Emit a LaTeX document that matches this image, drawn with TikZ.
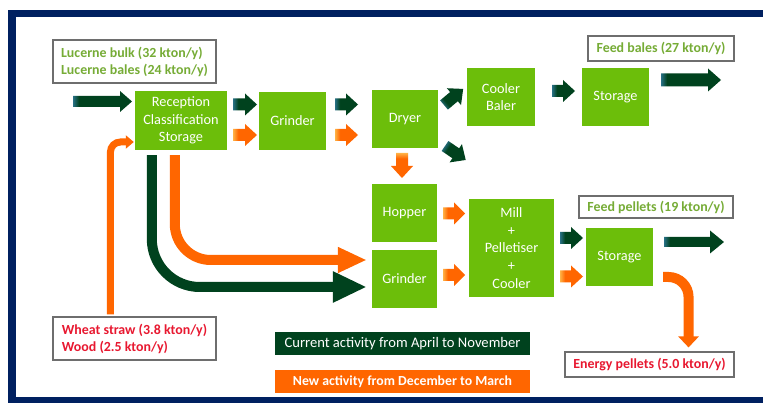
\documentclass[tikz,border=0pt]{standalone}
\usepackage{fontspec}
\setmainfont{Carlito}
\usetikzlibrary{arrows.meta,calc}

\definecolor{framenavy}{HTML}{002060}
\definecolor{boxgreen}{RGB}{108,190,10}
\definecolor{dkgreen}{RGB}{0,66,30}
\definecolor{arrteal}{RGB}{40,112,132}
\definecolor{orng}{RGB}{255,102,0}
\definecolor{orlight}{RGB}{255,178,70}
\definecolor{lblgreen}{RGB}{118,172,54}
\definecolor{lblred}{RGB}{232,24,48}
\definecolor{lblborder}{RGB}{110,110,110}

% gradients for the block arrows: a lighter tail blending into the body colour
\pgfdeclarehorizontalshading{darkblk}{100bp}{color(0bp)=(arrteal); color(25bp)=(arrteal); color(36bp)=(dkgreen); color(100bp)=(dkgreen)}
\pgfdeclarehorizontalshading{darklong}{100bp}{color(0bp)=(arrteal); color(25bp)=(arrteal); color(30bp)=(dkgreen); color(100bp)=(dkgreen)}
\pgfdeclarehorizontalshading{orangeblk}{100bp}{color(0bp)=(orlight); color(25bp)=(orlight); color(36bp)=(orng); color(100bp)=(orng)}

% #1 shading, #2 tail centre, #3 angle, #4 length, #5 head length, #6 shaft half width, #7 head half width
\newcommand{\blockarrow}[7]{%
  \path[shade, shading=#1, shading angle=#3, shift={(#2)}, rotate=#3]
    (0,-#6) -- ({#4-#5},-#6) -- ({#4-#5},-#7) -- (#4,0) -- ({#4-#5},#7) -- ({#4-#5},#6) -- (0,#6) -- cycle;}

\tikzset{
  proc/.style={fill=boxgreen, text=white, align=center, inner sep=0pt,
    font=\fontsize{14.3}{17.6}\selectfont},
  lbl/.style={draw=lblborder, line width=1.1pt, fill=white, align=left, inner sep=0pt,
    font=\bfseries\fontsize{13.9}{17}\selectfont},
  legendbox/.style={text=white, inner sep=0pt, minimum width=255pt, minimum height=23pt},
}

\begin{document}
\begin{tikzpicture}[x=1pt,y=-1pt]
\useasboundingbox (0,0) rectangle (763,403);
\fill[white] (0,0) rectangle (763,403);
% frame
\fill[framenavy] (8,10) rectangle (763,403);
\fill[white] (16,17) rectangle (763,397);

% process boxes
\node[proc, minimum width=92pt, minimum height=59pt] (recep) at (181,120.5) {Reception\\Classification\\Storage};
\node[proc, minimum width=67pt, minimum height=58pt] (grind1) at (292.5,121) {Grinder};
\node[proc, minimum width=66pt, minimum height=58pt] (dryer) at (405,119) {Dryer};
\node[proc, minimum width=68pt, minimum height=58pt] (cooler) at (501,97) {Cooler\\Baler};
\node[proc, minimum width=67pt, minimum height=58pt] (store1) at (615.5,97) {Storage};
\node[proc, minimum width=65pt, minimum height=58pt] (hopper) at (404.5,213) {Hopper};
\node[proc, minimum width=65pt, minimum height=58pt] (grind2) at (404.5,279) {Grinder};
\node[proc, minimum width=85pt, minimum height=98pt] (mill) at (511.5,248) {Mill\\+\\Pelletiser\\+\\Cooler};
\node[proc, minimum width=67pt, minimum height=58pt] (store2) at (619.5,257) {Storage};

% quantity labels
\node[lbl, text=lblgreen, minimum width=163pt, minimum height=43pt] (lucerne) at (134.5,61.5)
  {Lucerne bulk (32 kton/y)\\Lucerne bales (24 kton/y)};
\node[lbl, text=lblgreen, minimum width=146pt, minimum height=25pt] (feedbales) at (661,48.5) {Feed bales (27 kton/y)};
\node[lbl, text=lblgreen, minimum width=154pt, minimum height=22pt] (feedpellets) at (656,207) {Feed pellets (19 kton/y)};
\node[lbl, text=lblred, minimum width=163pt, minimum height=43pt] (wheat) at (134.5,338.5)
  {Wheat straw (3.8 kton/y)\\Wood (2.5 kton/y)};
\node[lbl, text=lblred, minimum width=169pt, minimum height=25pt] (energy) at (649.5,364.5) {Energy pellets (5.0 kton/y)};

% legend
\node[legendbox, fill=dkgreen, font=\fontsize{14.6}{16}\selectfont] (legcur) at (402.5,343.5) {Current activity from April to November};
\node[legendbox, fill=orng, font=\bfseries\fontsize{13.8}{16}\selectfont] (legnew) at (402.5,381.5) {New activity from December to March};

% long curved flows from reception to the second grinder
\draw[dkgreen, line width=10pt, rounded corners=48pt, -{Triangle[length=34pt,width=29pt]}]
  ($(recep.south west)+(17,5)$) |- ($(grind2.west)+(-5,8)$);
\draw[orng, line width=10pt, rounded corners=36pt, -{Triangle[length=29pt,width=24pt]}]
  ($(recep.south west)+(40,5)$) |- ($(grind2.west)+(-5,-19)$);

% wheat straw / wood feed into reception
\draw[orng, line width=7pt, rounded corners=10pt, -{Triangle[length=8pt,width=13pt]}]
  ($(wheat.north west)+(58,-2)$) |- ($(recep.west)+(-1,21.5)$);

% energy pellets out of storage
\draw[orng, line width=10pt, rounded corners=20pt, -{Triangle[length=11pt,width=20pt]}]
  ($(store2.east)+(10,20)$) -| ($(energy.north east)+(-46,-4)$);

% large block arrows
\blockarrow{darklong}{73,101.5}{0}{59}{12}{5.5}{10.5}
\blockarrow{darklong}{661,80}{0}{60}{13}{6.5}{11.5}
\blockarrow{darklong}{664,242}{0}{60}{14}{5}{11.5}

% small block arrows between stages
\blockarrow{darkblk}{233,104.5}{0}{24}{12}{6}{11}
\blockarrow{orangeblk}{233,135}{0}{24}{12}{6}{11}
\blockarrow{darkblk}{335,104.5}{0}{23}{12}{6}{11}
\blockarrow{orangeblk}{335,135}{0}{23}{12}{6}{11}
\blockarrow{darkblk}{444,105}{40}{25}{12}{6}{11}
\blockarrow{darkblk}{445,146}{-34}{25}{12}{6}{11}
\blockarrow{darkblk}{552,91}{0}{23}{12}{6}{11}
\blockarrow{orangeblk}{402,153}{-90}{25}{12}{6}{11}
\blockarrow{orangeblk}{443,213.5}{0}{22}{11}{6}{11}
\blockarrow{orangeblk}{443,275}{0}{22}{11}{6}{11}
\blockarrow{darkblk}{560,238}{0}{23}{12}{6}{11}
\blockarrow{orangeblk}{560,276.5}{0}{23}{12}{6}{11}
\end{tikzpicture}
\end{document}
